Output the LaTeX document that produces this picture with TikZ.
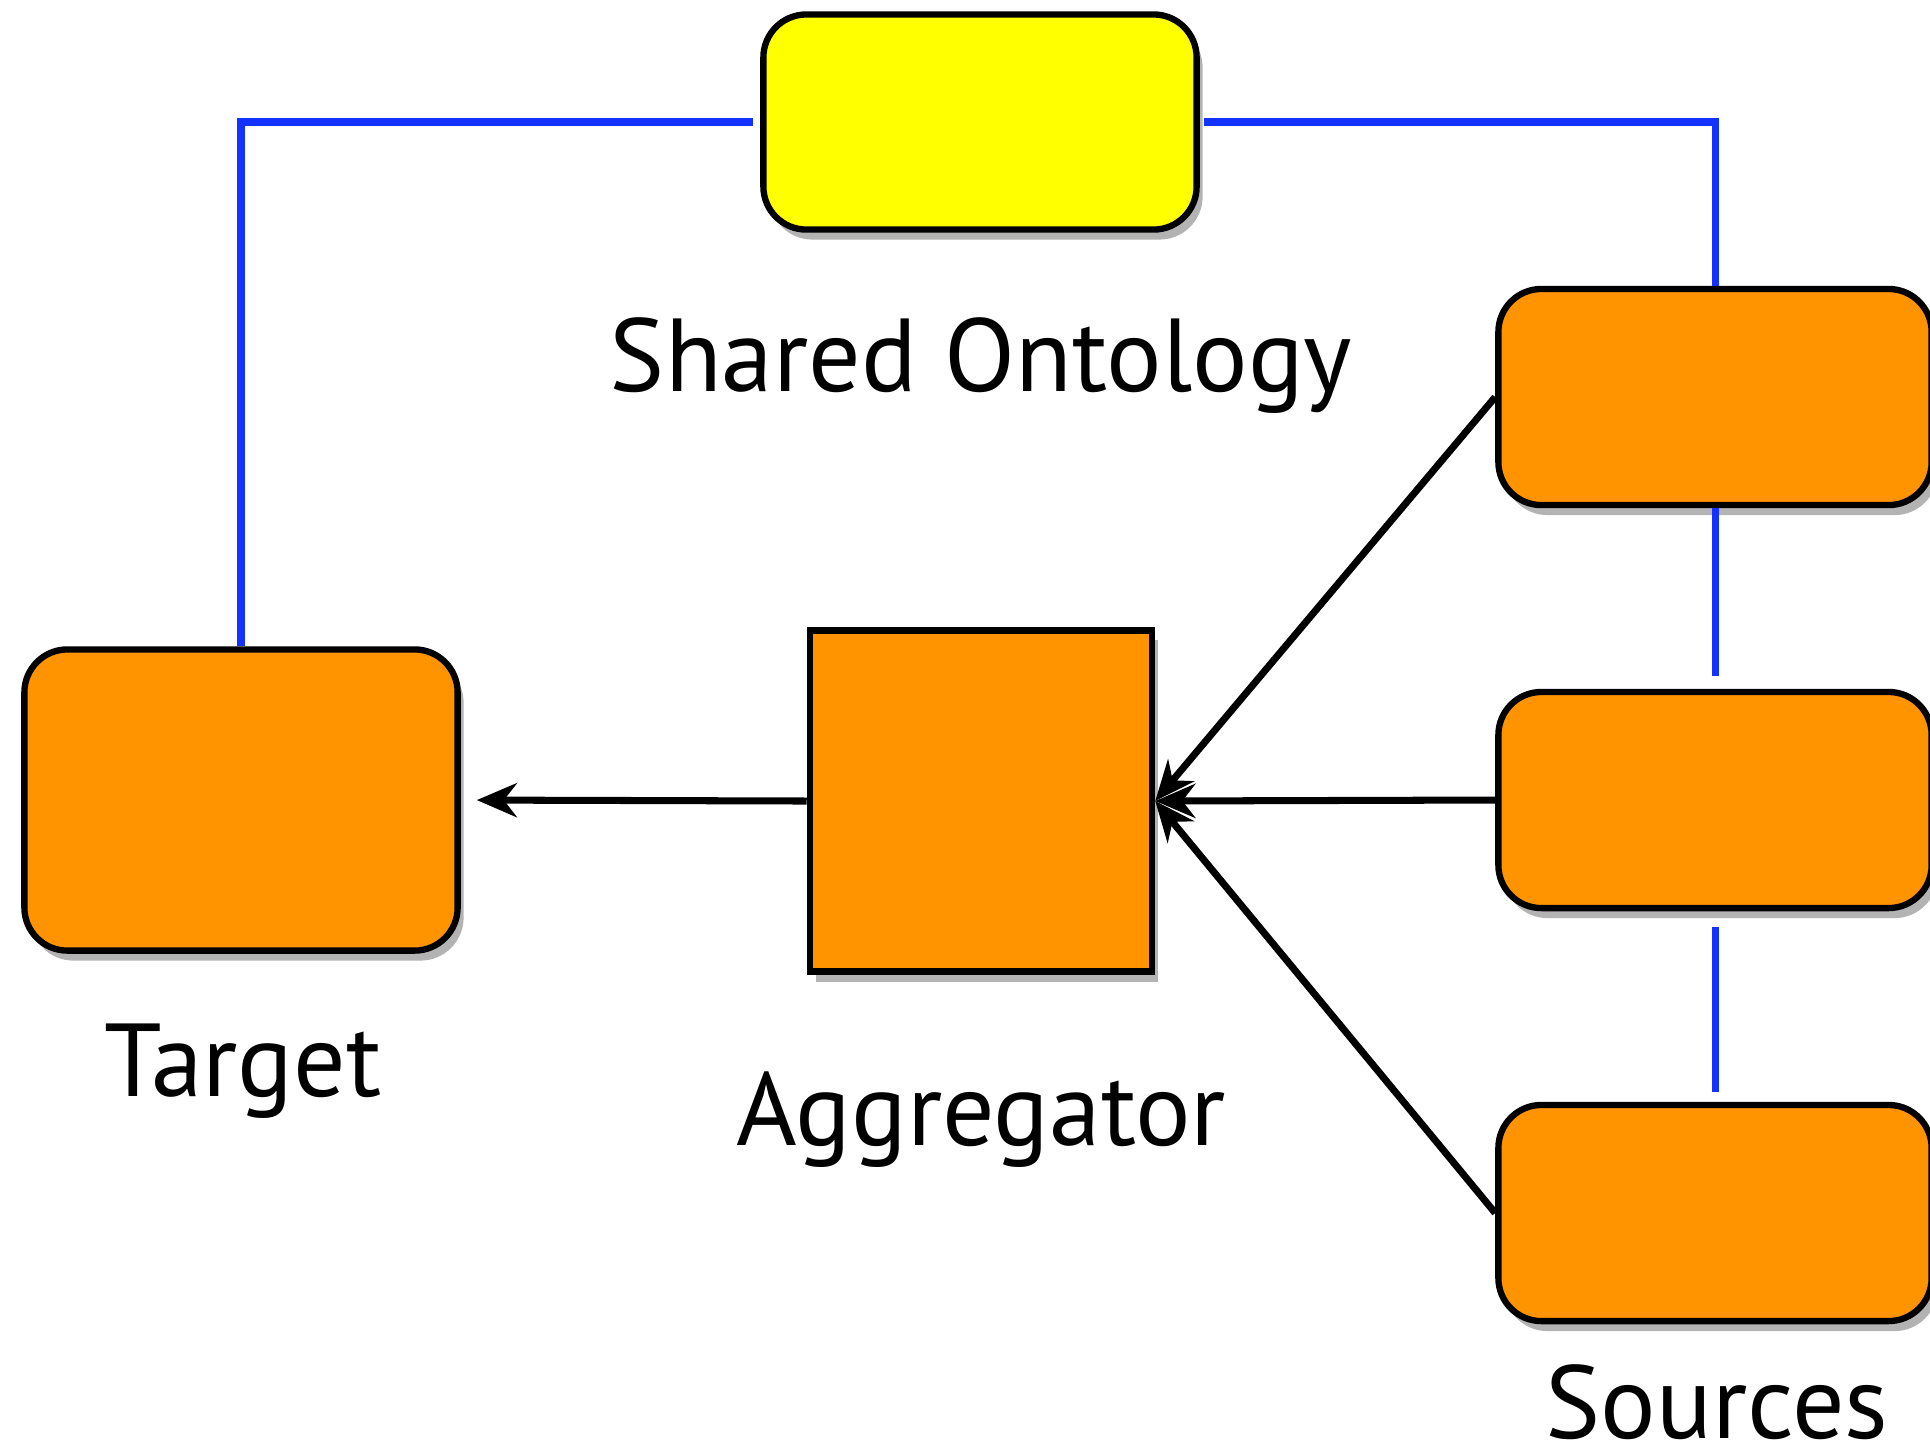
\documentclass[tikz,border=0pt]{standalone}
\usepackage{fontspec}
\setmainfont{PT Sans}
\usetikzlibrary{calc,positioning,arrows.meta,shadows}

\definecolor{boxorange}{RGB}{255,147,0}
\definecolor{ontoyellow}{RGB}{255,255,0}
\definecolor{linkblue}{RGB}{20,50,255}

\begin{document}
\begin{tikzpicture}[
x=0.01cm,y=-0.01cm,
>={Stealth[length=4mm,width=3.4mm,inset=1.3mm]},
box/.style={
	draw=black,
	line width=1.8pt,
	fill=boxorange,
	rounded corners=4.3mm,
	minimum width=4.33cm,
	minimum height=2.16cm,
	drop shadow={shadow xshift=0.6mm,shadow yshift=-1mm,opacity=0.6}
},
aggbox/.style={
	box,
	rounded corners=0pt,
	minimum width=3.42cm,
	minimum height=3.41cm
},
link/.style={
	draw=linkblue,
	line width=2pt
},
flow/.style={
	->,
	line width=2pt
},
caption/.style={
	anchor=base,
	inner sep=0pt,
	font=\fontsize{29.5}{34}\selectfont
}
]
\useasboundingbox (0,0) rectangle (1930,1447);

\node[box,fill=ontoyellow,minimum height=2.15cm] (onto) at (980,122) {};
\node[box,minimum height=3.01cm] (target) at (241,800) {};
\node[aggbox] (agg) at (981,801) {};
\foreach \i/\y in {1/397,2/800,3/1213}
\node[box] (src\i) at (1715,\y) {};

\node[caption] (ontolabel) at (981,391) {Shared Ontology};
\node[caption] (targetlabel) at (243,1096) {Target};
\node[caption] (agglabel) at (981,1145) {Aggregator};
\node[caption] (srclabel) at (1717,1438) {Sources};

% ontology links
\draw[link] ([xshift=-0.7mm]onto.west) -| (target.north);
\draw[link] ([xshift=0.4mm]onto.east) -| (src1.north);
\draw[link,shorten >=1.3mm] (src1.south) -- (src2.north);
\draw[link,shorten <=1.6mm,shorten >=1mm] (src2.south) -- (src3.north);

% data flow
\draw[flow,shorten >=1.6mm] (agg.west) -- (target.east);
\foreach \i in {1,2,3}
\draw[flow] (src\i.west) -- (agg.east);
\end{tikzpicture}
\end{document}
